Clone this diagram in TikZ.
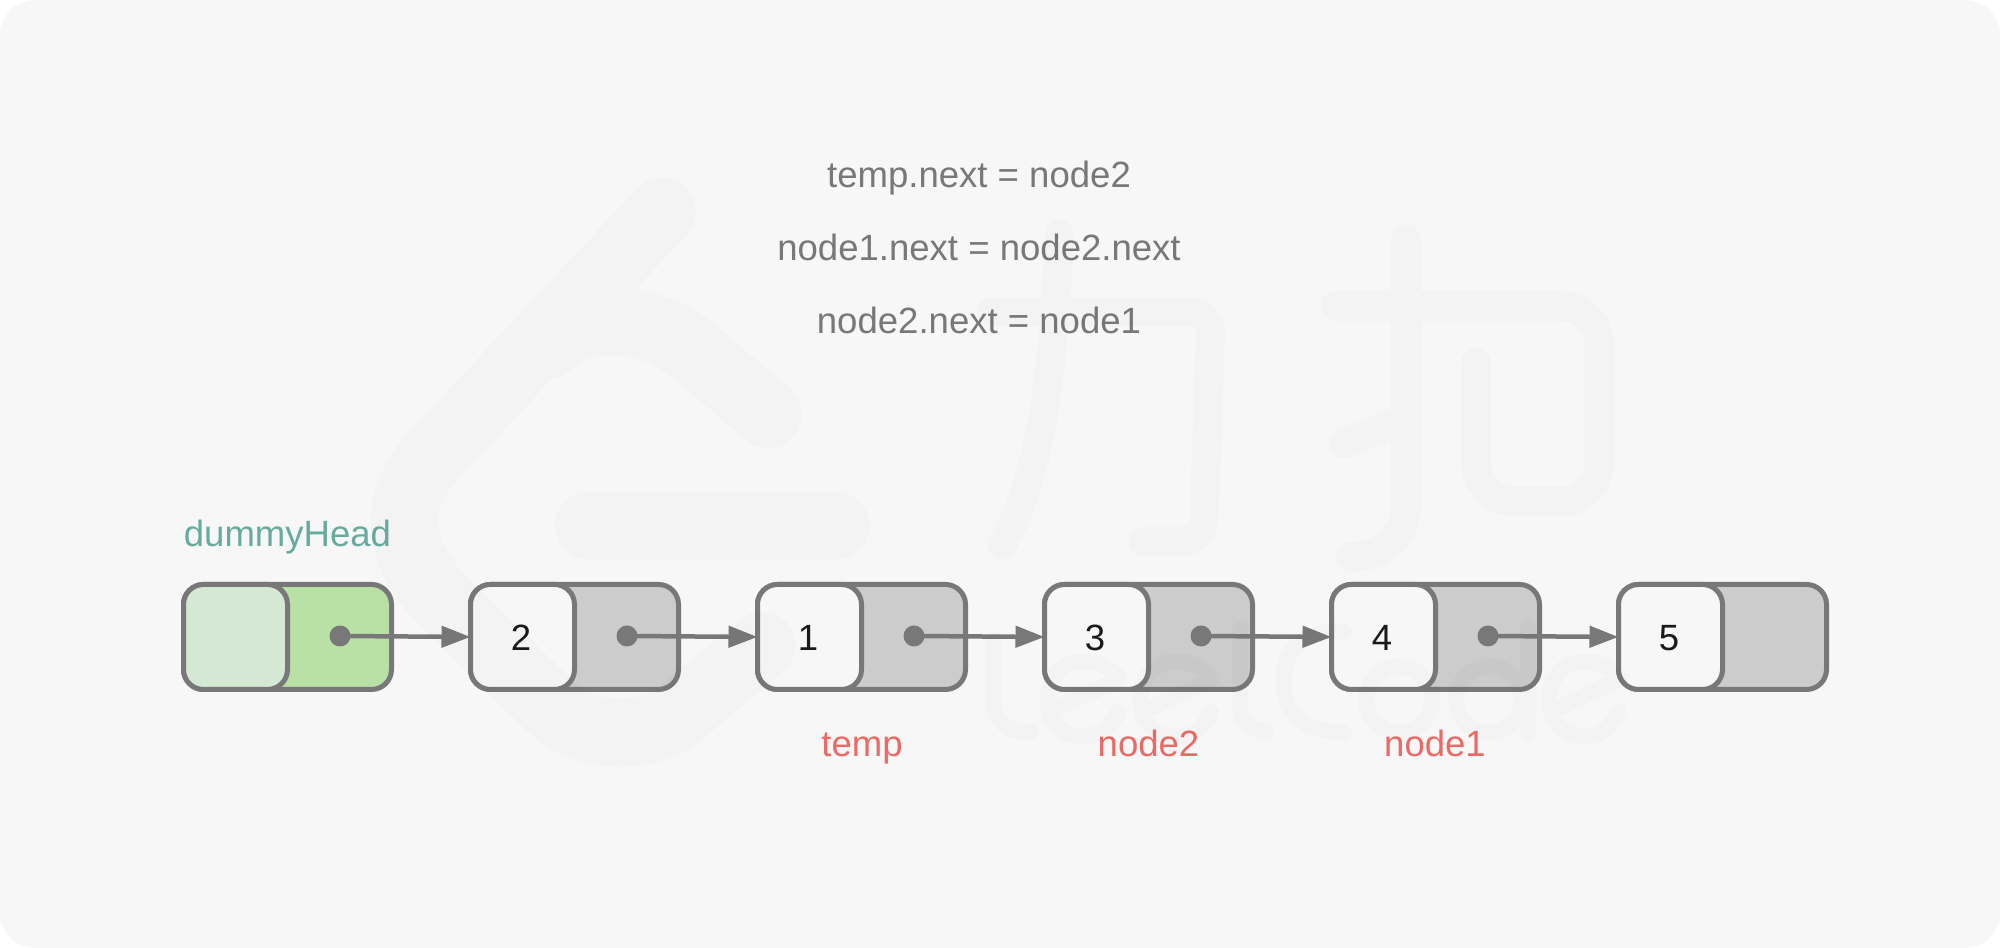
\documentclass[tikz,border=0pt]{standalone}
\usepackage{fontspec}
\setmainfont{Liberation Sans}
\usetikzlibrary{arrows.meta}

\definecolor{pagebg}{HTML}{F7F7F7}
\definecolor{edgegray}{HTML}{787878}
\definecolor{nextgray}{HTML}{CCCCCC}
\definecolor{headgreen}{HTML}{B9E0A5}
\definecolor{headpale}{HTML}{D5E8D4}
\definecolor{headtext}{HTML}{67AB9F}
\definecolor{pointertext}{HTML}{EA6B66}
\definecolor{valuetext}{HTML}{1A1A1A}

\tikzset{
	listcell/.style={draw=edgegray, line width=.05cm, rounded corners=.2cm, inner sep=0, outer sep=0, minimum width=2.08cm, minimum height=1.05cm, fill=nextgray},
	valcell/.style={draw=edgegray, line width=.05cm, rounded corners=.2cm, inner sep=0, outer sep=0, minimum width=1.04cm, minimum height=1.05cm, fill=pagebg, anchor=west},
	valtext/.style={anchor=base, text=valuetext},
	nextdot/.style={circle, fill=edgegray, inner sep=0, outer sep=0, minimum size=.21cm},
	link/.style={-{Triangle[length=.29cm, width=.21cm]}, draw=edgegray, line width=.045cm},
	codeline/.style={anchor=base, text=edgegray},
	pointerlabel/.style={anchor=base, text=pointertext},
	wmstroke/.style={draw=black, line cap=round, line join=round}
}

\begin{document}
\begin{tikzpicture}[every node/.style={font=\fontsize{10.4}{12}\selectfont}]

	\useasboundingbox (0,0) rectangle (20,9.48);
	%page background
	\fill[pagebg, rounded corners=.35cm] (0,0) rectangle (20,9.48);

	%statements at the top
	\node[codeline] (stmtA) at (9.79,7.60) {temp.next = node2};
	\node[codeline] (stmtB) at (9.79,6.87) {node1.next = node2.next};
	\node[codeline] (stmtC) at (9.79,6.14) {node2.next = node1};

	%list cells
	\node[listcell, fill=headgreen] (cell1) at (2.875,3.11) {};
	\node[listcell] (cell2) at (5.745,3.11) {};
	\node[listcell] (cell3) at (8.615,3.11) {};
	\node[listcell] (cell4) at (11.485,3.11) {};
	\node[listcell] (cell5) at (14.355,3.11) {};
	\node[listcell] (cell6) at (17.225,3.11) {};

	%value parts
	\node[valcell, fill=headpale] (val1) at (cell1.west) {};
	\node[valcell] (val2) at (cell2.west) {};
	\node[valcell] (val3) at (cell3.west) {};
	\node[valcell] (val4) at (cell4.west) {};
	\node[valcell] (val5) at (cell5.west) {};
	\node[valcell] (val6) at (cell6.west) {};
	\node[valtext] (num2) at (5.21,2.97) {2};
	\node[valtext] (num1) at (8.08,2.97) {1};
	\node[valtext] (num3) at (10.95,2.97) {3};
	\node[valtext] (num4) at (13.82,2.97) {4};
	\node[valtext] (num5) at (16.69,2.97) {5};

	%next pointers
	\node[nextdot] (dot1) at (3.40,3.12) {};
	\node[nextdot] (dot2) at (6.27,3.12) {};
	\node[nextdot] (dot3) at (9.14,3.12) {};
	\node[nextdot] (dot4) at (12.01,3.12) {};
	\node[nextdot] (dot5) at (14.88,3.12) {};
	\draw[link] (dot1.center) -- (val2.west);
	\draw[link] (dot2.center) -- (val3.west);
	\draw[link] (dot3.center) -- (val4.west);
	\draw[link] (dot4.center) -- (val5.west);
	\draw[link] (dot5.center) -- (val6.west);

	%labels
	\node[anchor=base, text=headtext] (headlabel) at (2.875,4.01) {dummyHead};
	\node[pointerlabel] (templabel) at (8.62,1.91) {temp};
	\node[pointerlabel] (node2label) at (11.485,1.91) {node2};
	\node[pointerlabel] (node1label) at (14.35,1.91) {node1};

	%watermark over everything, in reference pixels
	\begin{scope}[transparency group, opacity=.017, x=.01cm, y=-.01cm, yshift=9.48cm]
		%logo
		\draw[wmstroke, line width=.68cm] (662,212) -- (430,460) .. controls (395,500) and (395,550) .. (440,598) -- (550,706) .. controls (585,740) and (650,745) .. (690,706) -- (762,646);
		\draw[wmstroke, line width=.68cm] (768,414) -- (695,352) .. controls (660,322) and (590,305) .. (548,345);
		\draw[wmstroke, line width=.68cm] (589,526) -- (836,526);
		%first character
		\draw[wmstroke, line width=.29cm] (1060,234) .. controls (1055,350) and (1045,470) .. (1003,545);
		\draw[wmstroke, line width=.29cm, rounded corners=.22cm] (992,312) -- (1212,312) -- (1204,542) -- (1144,542);
		%second character
		\draw[wmstroke, line width=.3cm] (1407,240) -- (1407,503) .. controls (1407,535) and (1385,557) .. (1352,557);
		\draw[wmstroke, line width=.3cm] (1345,444) -- (1407,418);
		\draw[wmstroke, line width=.3cm, rounded corners=.39cm] (1337,306) -- (1600,306) -- (1600,502) -- (1477,502) -- (1477,363);
		%word below
		\draw[wmstroke, line width=.16cm, rounded corners=.3cm] (994,640) -- (994,732) -- (1032,732);
		\draw[wmstroke, line width=.16cm] (1054,710) -- (1120,680) .. controls (1110,665) and (1095,662) .. (1084,662) .. controls (1060,662) and (1048,680) .. (1048,700) .. controls (1048,722) and (1062,737) .. (1084,737) .. controls (1100,737) and (1112,728) .. (1119,712);
		\draw[wmstroke, line width=.16cm] (1147,710) -- (1213,680) .. controls (1203,665) and (1188,662) .. (1177,662) .. controls (1153,662) and (1141,680) .. (1141,700) .. controls (1141,722) and (1155,737) .. (1177,737) .. controls (1193,737) and (1205,728) .. (1212,712);
		\draw[wmstroke, line width=.16cm, rounded corners=.25cm] (1241,630) -- (1241,732) -- (1262,732);
		\draw[wmstroke, line width=.16cm] (1345,632) .. controls (1305,630) and (1284,650) .. (1284,682) .. controls (1284,713) and (1305,733) .. (1345,733);
		\draw[wmstroke, line width=.16cm] (1400,700) ellipse [x radius=.33cm, y radius=.33cm];
		\draw[wmstroke, line width=.16cm] (1490,700) ellipse [x radius=.33cm, y radius=.33cm];
		\draw[wmstroke, line width=.16cm] (1529,628) -- (1529,733);
		\draw[wmstroke, line width=.16cm] (1556,710) -- (1620,680) .. controls (1610,665) and (1597,662) .. (1586,662) .. controls (1562,662) and (1550,680) .. (1550,700) .. controls (1550,722) and (1564,737) .. (1586,737) .. controls (1602,737) and (1612,728) .. (1619,712);
	\end{scope}

\end{tikzpicture}
\end{document}
